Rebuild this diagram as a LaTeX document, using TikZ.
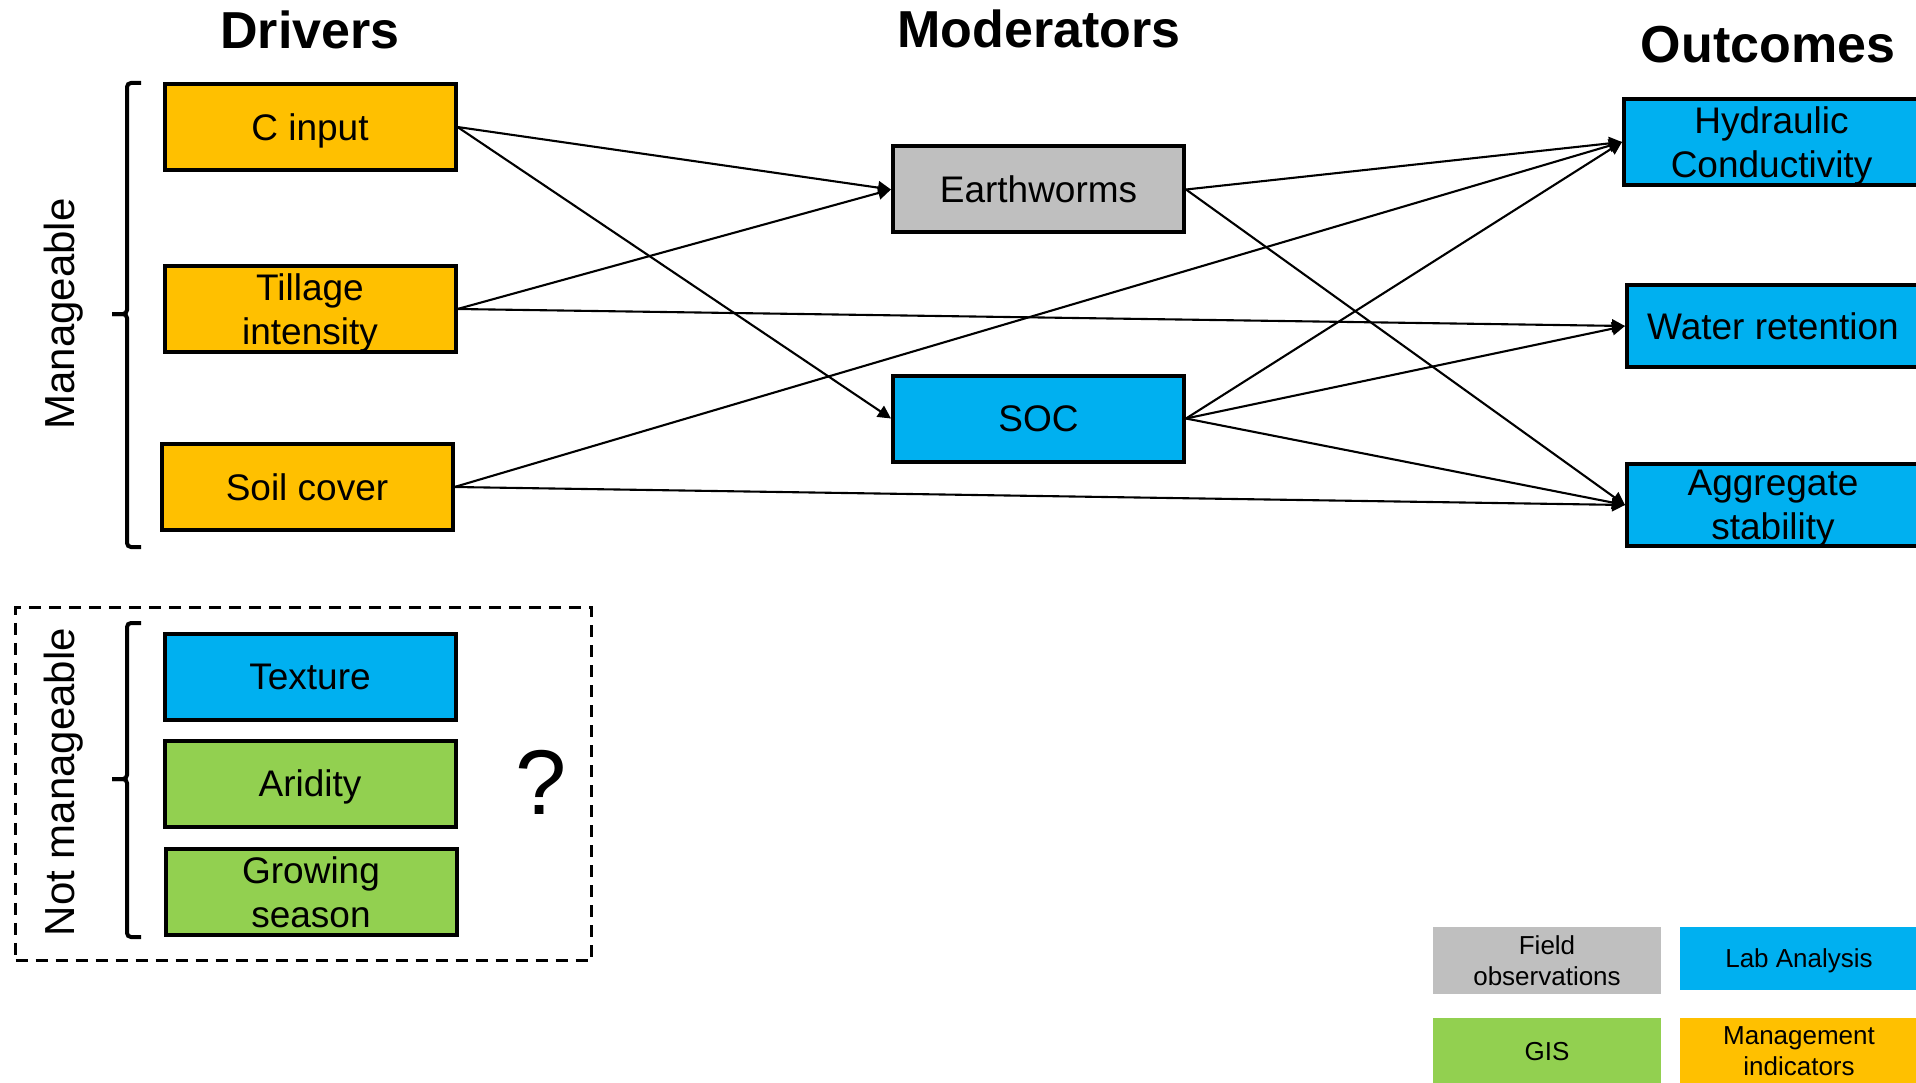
\documentclass[tikz,border=0pt]{standalone}
\usepackage{fontspec}
\setmainfont{Liberation Sans}
\usetikzlibrary{arrows.meta}
\definecolor{cOrange}{HTML}{FFC000}
\definecolor{cBlue}{HTML}{00B0F0}
\definecolor{cGray}{HTML}{BFBFBF}
\definecolor{cGreen}{HTML}{92D050}
\begin{document}
\begin{tikzpicture}[x=1pt,y=-1pt,
  box/.style={draw=black, line width=4pt, minimum width=291pt, minimum height=86pt, inner sep=0pt, text depth=0pt, align=center, font=\fontsize{37}{44}\selectfont},
  leg/.style={minimum width=228pt, minimum height=66pt, inner sep=0pt, text depth=0pt, align=center, font=\fontsize{26}{31}\selectfont},
  arr/.style={line width=2.1pt, -{Triangle[length=13pt,width=13pt]}},
  ttl/.style={font=\fontsize{52}{60}\selectfont\bfseries},
  brace/.style={line width=4pt, rounded corners=4pt},
  side/.style={rotate=90, font=\fontsize{42}{50}\selectfont}]
\useasboundingbox (0,0) rectangle (1916,1083);

% titles
\node[ttl] (tdr) at (310,30) {Drivers};
\node[ttl] (tmo) at (1039,29) {Moderators};
\node[ttl] (tou) at (1768,45) {Outcomes};

% drivers
\node[box, fill=cOrange] (cin) at (310,127) {C input};
\node[box, fill=cOrange] (till) at (310,309) {Tillage\\intensity};
\node[box, fill=cOrange] (soil) at (307,487) {Soil cover};

% moderators
\node[box, fill=cGray] (ew) at (1038.5,189.5) {Earthworms};
\node[box, fill=cBlue] (soc) at (1038.5,418.5) {SOC};

% outcomes
\node[box, fill=cBlue, minimum width=295pt, minimum height=86pt] (hc) at (1771.5,142) {Hydraulic\\Conductivity};
\node[box, fill=cBlue, minimum width=292pt, minimum height=81pt] (wr) at (1773,326) {Water retention};
\node[box, fill=cBlue, minimum width=292pt, minimum height=82pt] (as) at (1773,505) {Aggregate\\stability};

% not manageable
\node[draw, line width=3.2pt, dash pattern=on 12pt off 8pt, minimum width=576pt, minimum height=353pt, inner sep=0pt] (nm) at (303.6,784.3) {};
\node[box, fill=cBlue] (tex) at (310,676.5) {Texture};
\node[box, fill=cGreen] (ari) at (310,783.5) {Aridity};
\node[box, fill=cGreen] (gro) at (311,892) {Growing\\season};
\node[font=\fontsize{92}{100}\selectfont] (q) at (541,782) {?};

% braces and side labels
\draw[brace] (141,83) -| (127,314) -- (112,314);
\draw[brace] (112,314) -- (127,314) |- (141,547);
\draw[brace] (141,623) -| (127,779) -- (112,779);
\draw[brace] (112,779) -- (127,779) |- (141,937);
\node[side] (lman) at (63.5,314) {Manageable};
\node[side] (lnman) at (63.5,782) {Not manageable};

% arrows
\draw[arr] (cin.east) -- (ew.west);
\draw[arr] (cin.east) -- (soc.west);
\draw[arr] (till.east) -- (ew.west);
\draw[arr] (till.east) -- (wr.west);
\draw[arr] (soil.east) -- (hc.west);
\draw[arr] (soil.east) -- (as.west);
\draw[arr] (ew.east) -- (hc.west);
\draw[arr] (ew.east) -- (as.west);
\draw[arr] (soc.east) -- (hc.west);
\draw[arr] (soc.east) -- (wr.west);
\draw[arr] (soc.east) -- (as.west);

% legend
\node[leg, fill=cGray, minimum height=67pt] (lf) at (1547,960.5) {Field\\observations};
\node[leg, fill=cBlue, minimum width=238pt, minimum height=63pt] (ll) at (1799,958.5) {Lab Analysis};
\node[leg, fill=cGreen] (lg) at (1547,1051) {GIS};
\node[leg, fill=cOrange, minimum width=238pt] (lm) at (1799,1051) {Management\\indicators};
\end{tikzpicture}
\end{document}
